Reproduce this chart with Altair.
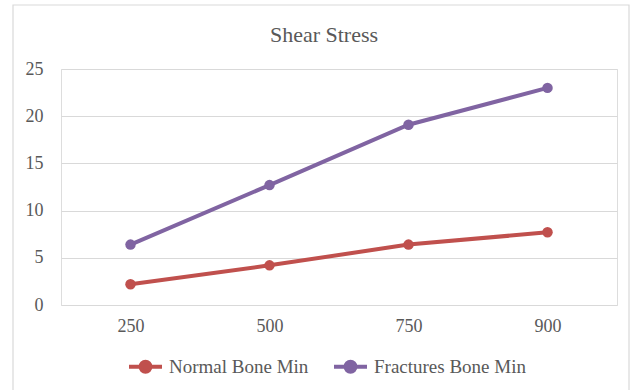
import altair as alt
import pandas as pd

categories = ["250", "500", "750", "900"]
normal_bone_min = [2.2, 4.2, 6.4, 7.7]
fractures_bone_min = [6.4, 12.7, 19.1, 23.0]
series_names = ["Normal Bone Min", "Fractures Bone Min"]
series_colors = ["#C0504D", "#8064A2"]

rows = []
for name, vals in zip(series_names, [normal_bone_min, fractures_bone_min]):
    for c, v in zip(categories, vals):
        rows.append({"cat": c, "value": v, "series": name})
df = pd.DataFrame(rows)

FONT = "Liberation Serif"
GRAY = "#595959"

legend_symbol = "M-1,0H1M0.3,0A0.3,0.3,0,1,1,-0.3,0A0.3,0.3,0,1,1,0.3,0Z"

color = alt.Color(
    "series:N",
    scale=alt.Scale(domain=series_names, range=series_colors),
    legend=alt.Legend(
        title=None,
        orient="none",
        direction="horizontal",
        legendX=66,
        legendY=279,
        symbolType=legend_symbol,
        symbolSize=1089,
        symbolStrokeWidth=4,
        labelFont=FONT,
        labelFontSize=19,
        labelColor=GRAY,
        labelOffset=5,
        columnPadding=17,
    ),
)

x = alt.X(
    "cat:N",
    sort=categories,
    scale=alt.Scale(type="point", padding=0.5),
    axis=alt.Axis(
        title=None,
        labelAngle=0,
        labelFont=FONT,
        labelFontSize=18,
        labelColor=GRAY,
        labelPadding=12,
        ticks=False,
        domain=False,
        grid=False,
    ),
)
y = alt.Y(
    "value:Q",
    scale=alt.Scale(domain=[0, 25], nice=False),
    axis=alt.Axis(
        title=None,
        values=[0, 5, 10, 15, 20, 25],
        labelFont=FONT,
        labelFontSize=18,
        labelColor=GRAY,
        labelPadding=18,
        ticks=False,
        domain=False,
        grid=True,
        gridColor="#D9D9D9",
        gridWidth=1.2,
    ),
)

border = alt.Chart(pd.DataFrame({"b": [0]})).mark_rect(
    fill="transparent", stroke="#D9D9D9", strokeWidth=1.2
).encode(
    x=alt.value(-48), x2=alt.value(568), y=alt.value(-64), y2=alt.value(340)
)

lines = alt.Chart(df).mark_line(
    strokeWidth=4,
    point=alt.OverlayMarkDef(filled=True, size=110, opacity=1),
).encode(x=x, y=y, color=color, order=alt.Order("cat:N"))

chart = alt.layer(border, lines).properties(
    width=556,
    height=236,
    title=alt.Title(
        "Shear Stress",
        font=FONT,
        fontSize=22,
        fontWeight="normal",
        color=GRAY,
        anchor="middle",
        offset=-43,
        dx=-15,
    ),
    padding={"left": 61, "top": 69, "right": 25, "bottom": 85},
    autosize=alt.AutoSizeParams(type="none"),
).configure_view(stroke=None).configure(background="white")

chart.save("out.html", embed_options={"renderer": "svg", "actions": False})
